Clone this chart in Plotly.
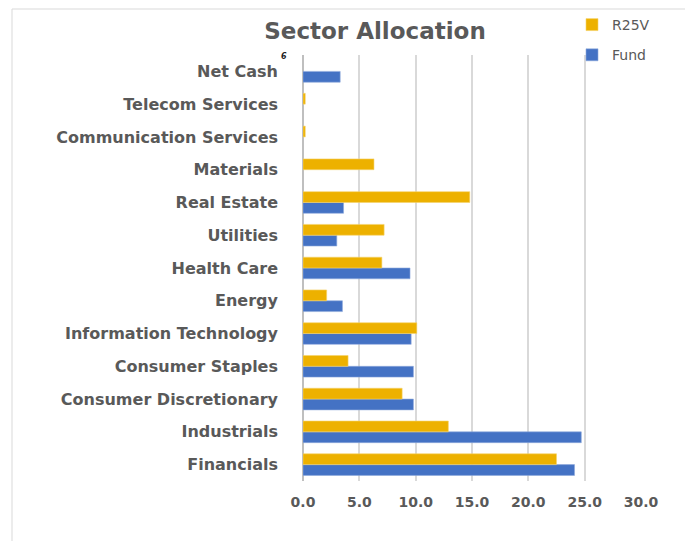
import plotly.graph_objects as go

categories = ["Financials", "Industrials", "Consumer Discretionary", "Consumer Staples",
              "Information Technology", "Energy", "Health Care", "Utilities", "Real Estate",
              "Materials", "Communication Services", "Telecom Services", "Net Cash"]
fund = [24.1, 24.7, 9.8, 9.8, 9.6, 3.5, 9.5, 3.0, 3.6, None, None, None, 3.3]
r25v = [22.5, 12.9, 8.8, 4.0, 10.1, 2.1, 7.0, 7.2, 14.8, 6.3, 0.2, 0.2, None]
x_ticks = [0, 5, 10, 15, 20, 25, 30]
x_tick_labels = ["0.0", "5.0", "10.0", "15.0", "20.0", "25.0", "30.0"]

GOLD = "#EDB100"
BLUE = "#4472C4"
GRAY = "#595959"
FONT = "DejaVu Sans"

fig = go.Figure()
fig.add_trace(go.Bar(y=categories, x=fund, name="Fund", orientation="h",
                     marker=dict(color=BLUE, line=dict(color="#8FAADC", width=0.6)),
                     legendgroup="f", legendrank=2))
fig.add_trace(go.Bar(y=categories, x=r25v, name="R25V", orientation="h",
                     marker=dict(color=GOLD, line=dict(color="#F5D36B", width=0.6)),
                     legendgroup="r", legendrank=1))

fig.update_layout(
    width=685, height=541,
    margin=dict(l=303, r=44, t=55, b=60, autoexpand=False),
    paper_bgcolor="white", plot_bgcolor="white",
    barmode="group", bargap=0.34, bargroupgap=0.0,
    title=dict(text="<b>Sector Allocation</b>", x=375/685, xanchor="center",
               y=1 - 31/541, yanchor="middle",
               font=dict(family=FONT, size=23, color=GRAY)),
    legend=dict(xref="container", yref="container",
                x=572/685, xanchor="left", y=1 - 9/541, yanchor="top",
                traceorder="grouped", tracegroupgap=9,
                font=dict(family=FONT, size=14, color=GRAY),
                bgcolor="rgba(0,0,0,0)"),
    xaxis=dict(range=[0, 30], tickvals=x_ticks, ticktext=[f"<b>{t}</b>" for t in x_tick_labels],
               showgrid=True, gridcolor="#D9D9D9", gridwidth=1.5,
               zeroline=True, zerolinecolor="#BFBFBF", zerolinewidth=1.5,
               tickfont=dict(family=FONT, size=14, color=GRAY),
               ticks="", ticklabelstandoff=11, fixedrange=True),
    yaxis=dict(categoryorder="array", categoryarray=categories,
               ticktext=[f"<b>{c}</b>" for c in categories], tickvals=categories,
               tickfont=dict(family=FONT, size=16, color=GRAY),
               ticks="", ticklabelstandoff=24, showgrid=False,
               range=[-0.5, 12.5], fixedrange=True),
    shapes=[dict(type="rect", xref="paper", yref="paper",
                 x0=(12 - 303) / 338, x1=(700 - 303) / 338,
                 y0=(481 - 560) / 426, y1=(481 - 9) / 426,
                 line=dict(color="#D9D9D9", width=1), layer="below")],
    annotations=[dict(text="<b><i>6</i></b>", xref="paper", yref="paper",
                      x=(279 - 303) / 338, y=(481 - 50) / 426, showarrow=False,
                      font=dict(family=FONT, size=8, color="#222"))],
)

fig.write_html("out.html", config={"displayModeBar": False},
               post_script="document.body.style.margin='0';")
